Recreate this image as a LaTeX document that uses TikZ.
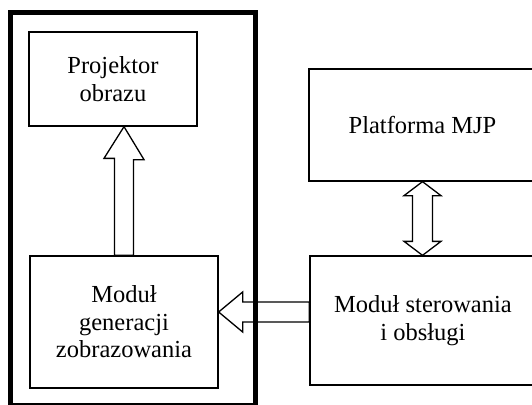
\documentclass[tikz,border=0pt]{standalone}
\usepackage{fontspec}
\setmainfont{Liberation Serif}
\usetikzlibrary{calc}
\begin{document}
\begin{tikzpicture}[x=1pt,y=-1pt,
    blok/.style={draw,line width=1.3pt,inner sep=0,align=center,font=\fontsize{24.5}{27.5}\selectfont},
    strzalka/.style={draw,line width=1.3pt,line join=miter}]
    \useasboundingbox(0,0)rectangle(532,404);
    \node[blok,minimum width=168,minimum height=94](proj)at(113,79){Projektor\\obrazu};
    \node[blok,minimum width=188,minimum height=132](gen)at(124,322){Moduł\\generacji\\zobrazowania};
    \node[blok,minimum width=227,minimum height=112](plat)at(422.5,125){Platforma MJP};
    \node[blok,minimum width=226,minimum height=129](ster)at(423,320.5){Moduł sterowania\\i obsługi};
    \draw[line width=5pt](10.5,12.5)rectangle(255.5,405);
    % strzalka w gore
    \coordinate(upTip)at(gen.north|-proj.south);
    \draw[strzalka](upTip)--++(20,33)--++(-10.5,0)--($(gen.north)+(9.5,0)$)--($(gen.north)+(-9.5,0)$)--++(0,-97)--++(-10.5,0)--cycle;
    % strzalka w lewo
    \coordinate(leftTip)at($(gen.east)+(0,-10)$);
    \draw[strzalka](leftTip)--++(24,-20)--++(0,10)--($(leftTip-|ster.west)+(0,-10)$)--($(leftTip-|ster.west)+(0,10)$)--($(leftTip)+(24,10)$)--++(0,10)--cycle;
    % strzalka podwojna
    \draw[strzalka](plat.south)--++(18.5,14)--++(-8.5,0)--($(plat.south|-ster.north)+(10,-14)$)--++(8.5,0)--(plat.south|-ster.north)--++(-18.5,-14)--++(8.5,0)--($(plat.south)+(-10,14)$)--++(-8.5,0)--cycle;
\end{tikzpicture}
\end{document}
